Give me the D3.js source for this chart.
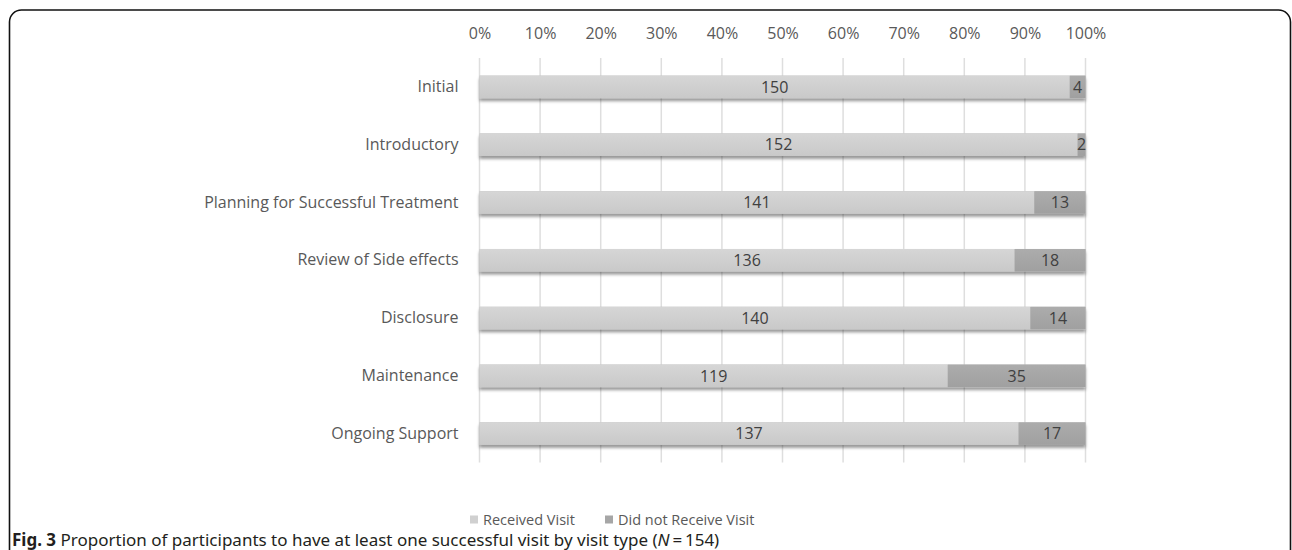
<!DOCTYPE html>
<html>
<head>
<meta charset="utf-8">
<script src="https://cdn.jsdelivr.net/npm/d3@7"></script>
<style>
	body { margin: 0; background: #fff; }
	svg { display: block; }
	.tick text { fill: #595959; }
</style>
</head>
<body>
<div id="chart"></div>
<script>

	// chart data
	var categories = ["Initial", "Introductory", "Planning for Successful Treatment", "Review of Side effects", "Disclosure", "Maintenance", "Ongoing Support"];
	var received = [150, 152, 141, 136, 140, 119, 137];
	var notReceived = [4, 2, 13, 18, 14, 35, 17];
	var seriesNames = ["Received Visit", "Did not Receive Visit"];
	var tickValues = [0, 0.1, 0.2, 0.3, 0.4, 0.5, 0.6, 0.7, 0.8, 0.9, 1];

	var W = 1292, H = 550;
	var margin = {top: 58, left: 479.5, right: 206.5, bottom: 87.5};
	var width = W - margin.left - margin.right,
		height = H - margin.top - margin.bottom;

	var colors = ["#d0d0d0", "#a6a6a6"];
	var font = "'Open Sans', sans-serif";
	var fs = 16;

	var svg = d3.select("#chart").append("svg")
		.attr("width", W)
		.attr("height", H);

	// defs: gradients + shadow
	var defs = svg.append("defs");

	var grad = function(id, top, bottom) {
		var g = defs.append("linearGradient")
			.attr("id", id)
			.attr("x1", 0).attr("y1", 0).attr("x2", 0).attr("y2", 1);
		g.append("stop").attr("offset", "0%").attr("stop-color", top);
		g.append("stop").attr("offset", "100%").attr("stop-color", bottom);
	}
	grad("g0", "#d6d6d6", "#c9c9c9");
	grad("g1", "#acacac", "#a0a0a0");

	var filter = defs.append("filter")
		.attr("id", "shadow")
		.attr("x", "-5%").attr("y", "-30%")
		.attr("width", "110%").attr("height", "180%");
	filter.append("feDropShadow")
		.attr("dx", 0).attr("dy", 3)
		.attr("stdDeviation", 1.8)
		.attr("flood-color", "#000")
		.attr("flood-opacity", 0.4);

	// frame around the figure (bottom runs off the page)
	svg.append("rect")
		.attr("x", 9.5).attr("y", 10)
		.attr("width", 1281).attr("height", 700)
		.attr("rx", 12)
		.attr("fill", "none")
		.attr("stroke", "#111")
		.attr("stroke-width", 1.6);

	var g = svg.append("g")
		.attr("transform", "translate(" + margin.left + "," + margin.top + ")");

	// scales
	var x = d3.scaleLinear().domain([0, 1]).range([0, width]);
	var y = d3.scaleBand().domain(categories).range([0, height]).paddingInner(0.61).paddingOuter(0.305);

	// gridlines
	g.selectAll("line.grid")
		.data(tickValues)
		.enter()
		.append("line")
		.attr("class", "grid")
		.attr("x1", function(d) { return x(d); })
		.attr("x2", function(d) { return x(d); })
		.attr("y1", 0)
		.attr("y2", height)
		.attr("stroke", "#dedede")
		.attr("stroke-width", 1.5);

	// top axis labels
	var xAxis = d3.axisTop(x)
		.tickValues(tickValues)
		.tickFormat(d3.format(".0%"))
		.tickSize(0)
		.tickPadding(0);

	g.append("g")
		.attr("transform", "translate(0,-19)")
		.call(xAxis)
		.call(function(s) { s.select(".domain").remove(); })
		.selectAll("text")
		.attr("font-family", font)
		.attr("font-size", fs)
		.attr("dy", "0");

	// category labels
	var yAxis = d3.axisLeft(y).tickSize(0).tickPadding(21);
	g.append("g")
		.call(yAxis)
		.call(function(s) { s.select(".domain").remove(); })
		.selectAll("text")
		.attr("font-family", font)
		.attr("font-size", fs);

	// stacked data (percent)
	var rows = categories.map(function(c, i) {
		return {cat: c, a: received[i], b: notReceived[i]};
	});
	var stack = d3.stack().keys(["a", "b"]).offset(d3.stackOffsetExpand);
	var series = stack(rows);

	// shadow under whole bar
	g.selectAll("rect.shadow")
		.data(rows)
		.enter()
		.append("rect")
		.attr("x", x(0))
		.attr("y", function(d) { return y(d.cat); })
		.attr("width", x(1) - x(0))
		.attr("height", y.bandwidth())
		.attr("fill", "#bbb")
		.attr("filter", "url(#shadow)");

	var layer = g.selectAll("g.layer")
		.data(series)
		.enter()
		.append("g")
		.attr("class", "layer");

	layer.selectAll("rect")
		.data(function(d, i) { return d.map(function(p) { p.k = i; return p; }); })
		.enter()
		.append("rect")
		.attr("x", function(d) { return x(d[0]); })
		.attr("y", function(d) { return y(d.data.cat); })
		.attr("width", function(d) { return x(d[1]) - x(d[0]); })
		.attr("height", y.bandwidth())
		.attr("fill", function(d) { return "url(#g" + d.k + ")"; });

	// value labels
	layer.selectAll("text")
		.data(function(d) { return d; })
		.enter()
		.append("text")
		.attr("x", function(d) { return (x(d[0]) + x(d[1])) / 2; })
		.attr("y", function(d) { return y(d.data.cat) + y.bandwidth() / 2; })
		.attr("dy", "0.36em")
		.attr("text-anchor", "middle")
		.attr("font-family", font)
		.attr("font-size", fs)
		.attr("fill", "#404040")
		.text(function(d) { return d.k === 0 ? d.data.a : d.data.b; });

	// legend
	var legend = svg.append("g")
		.attr("transform", "translate(470,520)");
	var lx = [0, 135];
	seriesNames.forEach(function(name, i) {
		legend.append("rect")
			.attr("x", lx[i]).attr("y", -4.5)
			.attr("width", 8).attr("height", 8)
			.attr("fill", colors[i]);
		legend.append("text")
			.attr("x", lx[i] + 13)
			.attr("y", 0)
			.attr("dy", "0.35em")
			.attr("font-family", font)
			.attr("font-size", 14.5)
			.attr("fill", "#595959")
			.text(name);
	});

	// caption
	var cap = svg.append("text")
		.attr("x", 12)
		.attr("y", 546)
		.attr("font-family", "'Noto Sans', sans-serif")
		.attr("font-size", 17)
		.attr("fill", "#231f20");
	cap.append("tspan").attr("font-weight", "bold").text("Fig. 3");
	cap.append("tspan").text(" Proportion of participants to have at least one successful visit by visit type (");
	cap.append("tspan").attr("font-style", "italic").text("N");
	cap.append("tspan").text("\u2009=\u2009154)");

</script>
</body>
</html>
